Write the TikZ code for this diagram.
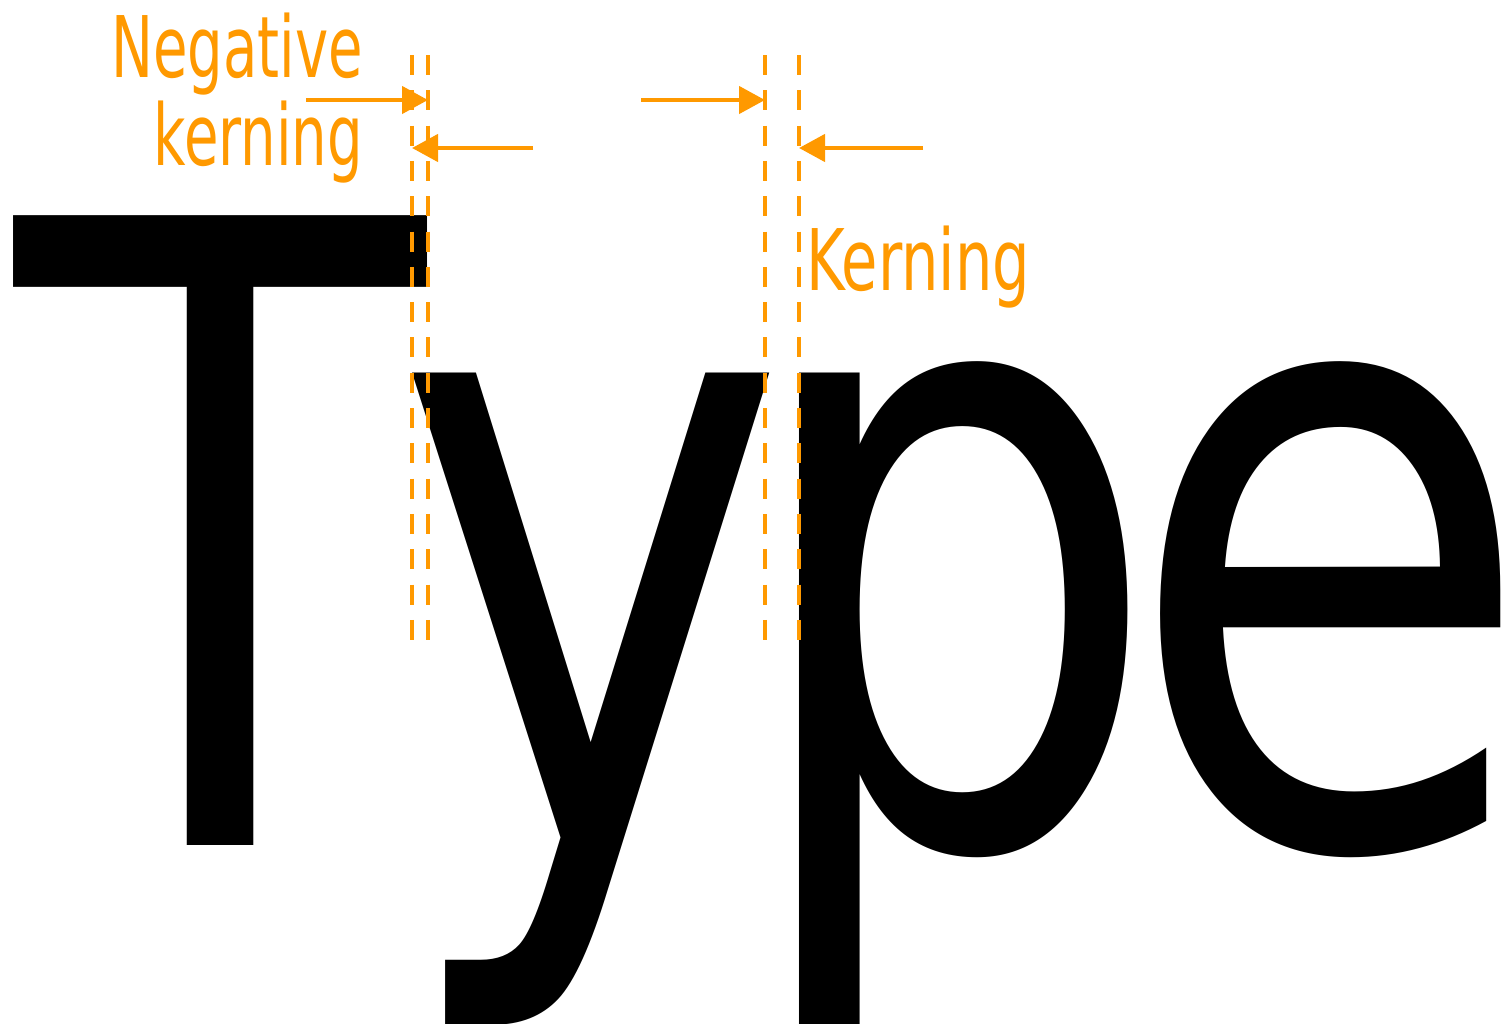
\documentclass[tikz,border=0pt]{standalone}
\usepackage{fontspec}
\usetikzlibrary{arrows.meta}
% Horizontally condensed DejaVu Sans for the big word and the labels
\newfontfamily\glyphfont[FakeStretch=0.777]{DejaVu Sans}
\newfontfamily\negfont[FakeStretch=0.66]{DejaVu Sans}
\newfontfamily\labelfont[FakeStretch=0.695]{DejaVu Sans}
\definecolor{kernorange}{HTML}{FF9900}

\begin{document}
\begin{tikzpicture}[x=1pt, y=-1pt,
  glyph/.style={inner sep=0pt, outer sep=0pt, anchor=base west,
    font=\glyphfont\fontsize{864}{864}\selectfont},
  lbl/.style={inner sep=0pt, outer sep=0pt, text=kernorange,
    font=\labelfont\fontsize{85}{88}\selectfont},
  neglbl/.style={lbl, font=\negfont\fontsize{85}{88}\selectfont},
  guide/.style={draw=kernorange, line width=4pt, dash pattern=on 20pt off 15.3pt},
  pointer/.style={draw=kernorange, line width=4.5pt,
    -{Triangle[length=26pt, width=27pt]}}
]
\useasboundingbox (0,0) rectangle (1503,1023);

% the word, one glyph per node so each gap can be set by hand
\node[glyph] (lT) at (16,845)   {T};
\node[glyph] (ly) at (392,845)  {y};
\node[glyph] (lp) at (738,845)  {p};
\node[glyph] (le) at (1123,845) {e};

% labels
\node[neglbl, anchor=base east] (neg)  at (363,77)  {Negative};
\node[neglbl, anchor=base east] (negk) at (363,165) {kerning};
\node[lbl, anchor=base west] (pos)  at (806,290) {Kerning};

% guide lines at the glyph edges
\coordinate (g1t) at (412,55); \coordinate (g1b) at (412,640);
\coordinate (g2t) at (428,55); \coordinate (g2b) at (428,640);
\coordinate (g3t) at (765,55); \coordinate (g3b) at (765,640);
\coordinate (g4t) at (799,55); \coordinate (g4b) at (799,640);
\draw[guide] (g1t) -- (g1b);
\draw[guide] (g2t) -- (g2b);
\draw[guide] (g3t) -- (g3b);
\draw[guide] (g4t) -- (g4b);

% pointers onto the guides
\coordinate (a1) at (306,100);
\coordinate (a2) at (533,148);
\coordinate (a3) at (641,100);
\coordinate (a4) at (923,148);
\draw[pointer] (a1) -- (a1 -| g2t);
\draw[pointer] (a2) -- (a2 -| g1t);
\draw[pointer] (a3) -- (a3 -| g3t);
\draw[pointer] (a4) -- (a4 -| g4t);
\end{tikzpicture}
\end{document}
